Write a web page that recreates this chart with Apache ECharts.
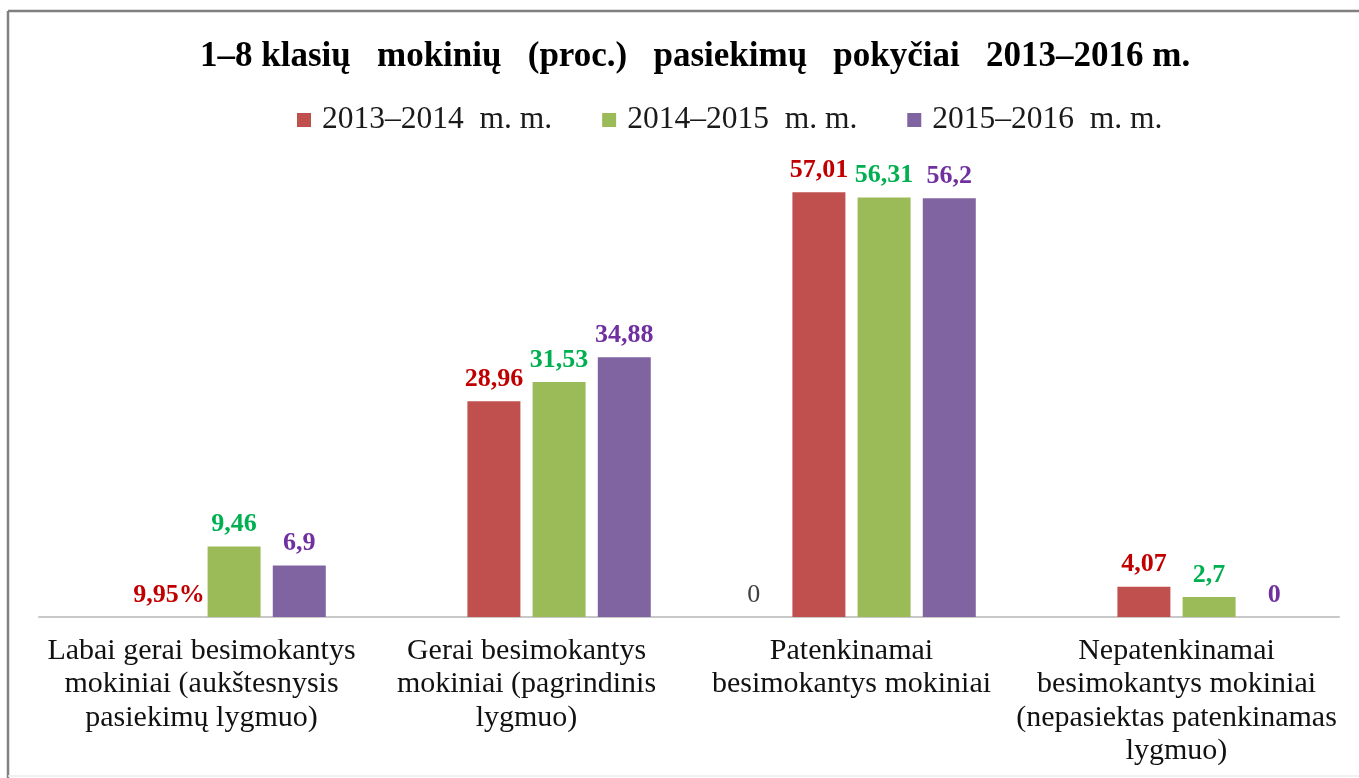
<!DOCTYPE html>
<html>
<head>
<meta charset="utf-8">
<script src="https://cdn.jsdelivr.net/npm/echarts@6/dist/echarts.min.js"></script>
<style>
  html, body { margin: 0; padding: 0; background: #fff; }
  #chart { width: 1359px; height: 778px; }
</style>
</head>
<body>
<div id="chart"></div>
<script>
const categories = [
  'Labai gerai besimokantys\nmokiniai (aukštesnysis\npasiekimų lygmuo)',
  'Gerai besimokantys\nmokiniai (pagrindinis\nlygmuo)',
  'Patenkinamai\nbesimokantys mokiniai',
  'Nepatenkinamai\nbesimokantys mokiniai\n(nepasiektas patenkinamas\nlygmuo)'
];
const seriesNames = ['2013–2014  m. m.', '2014–2015  m. m.', '2015–2016  m. m.'];
const extraValues = [null, null, 0, null];
const values2013 = [0, 28.96, 57.01, 4.07];
const values2014 = [9.46, 31.53, 56.31, 2.7];
const values2015 = [6.9, 34.88, 56.2, 0];
const labels2013 = ['9,95%', '28,96', '57,01', '4,07'];

const FONT = "'Liberation Serif', 'DejaVu Serif', serif";
const fmt = v => String(v).replace('.', ',');

const chart = echarts.init(document.getElementById('chart'), null, { renderer: 'canvas' });

function labelStyle(color, bold, formatter) {
  return {
    show: true,
    position: 'top',
    distance: 9,
    color: color,
    fontFamily: FONT,
    fontSize: 26,
    fontWeight: bold ? 'bold' : 'normal',
    formatter: formatter
  };
}

chart.setOption({
  animation: false,
  backgroundColor: '#ffffff',
  title: {
    text: '1–8 klasių   mokinių   (proc.)   pasiekimų   pokyčiai   2013–2016 m.',
    left: 195,
    top: 34,
    textStyle: { fontFamily: FONT, fontSize: 35, fontWeight: 'bold', color: '#000' }
  },
  legend: {
    data: seriesNames,
    left: 292,
    top: 99,
    itemWidth: 14,
    itemHeight: 14,
    itemGap: 50,
    icon: 'rect',
    textStyle: { fontFamily: FONT, fontSize: 31.5, color: '#1a1a1a', padding: [0, 0, 0, 6] }
  },
  grid: { left: 39, right: 20, top: 170, bottom: 161, containLabel: false },
  xAxis: {
    type: 'category',
    data: categories,
    axisLine: { show: true, lineStyle: { color: '#c8c8c8', width: 2 } },
    axisTick: { show: false },
    axisLabel: {
      interval: 0,
      margin: 17,
      fontFamily: FONT,
      fontSize: 30,
      lineHeight: 33.5,
      color: '#111'
    }
  },
  yAxis: {
    type: 'value',
    min: 0,
    max: 60,
    show: false,
    splitLine: { show: false }
  },
  graphic: [
    { type: 'line', shape: { x1: 8, y1: 11, x2: 1359, y2: 11 }, style: { stroke: '#808080', lineWidth: 2.5 } },
    { type: 'line', shape: { x1: 8, y1: 11, x2: 8, y2: 778 }, style: { stroke: '#808080', lineWidth: 2.5 } },
    { type: 'line', shape: { x1: 8, y1: 776, x2: 1359, y2: 776 }, style: { stroke: '#ececec', lineWidth: 1.5 } }
  ],
  series: [
    {
      name: 'extra',
      type: 'bar',
      data: extraValues,
      barWidth: 53,
      barGap: '23%',
      itemStyle: { color: '#4F81BD' },
      label: labelStyle('#404040', false, p => fmt(p.value))
    },
    {
      name: seriesNames[0],
      type: 'bar',
      data: values2013,
      barWidth: 53,
      barGap: '23%',
      itemStyle: { color: '#C0504D' },
      label: labelStyle('#C00000', true, p => labels2013[p.dataIndex])
    },
    {
      name: seriesNames[1],
      type: 'bar',
      data: values2014,
      barWidth: 53,
      barGap: '23%',
      itemStyle: { color: '#9BBB59' },
      label: labelStyle('#00B050', true, p => fmt(p.value))
    },
    {
      name: seriesNames[2],
      type: 'bar',
      data: values2015,
      barWidth: 53,
      barGap: '23%',
      itemStyle: { color: '#8064A2' },
      label: labelStyle('#7030A0', true, p => fmt(p.value))
    }
  ]
});
</script>
</body>
</html>
